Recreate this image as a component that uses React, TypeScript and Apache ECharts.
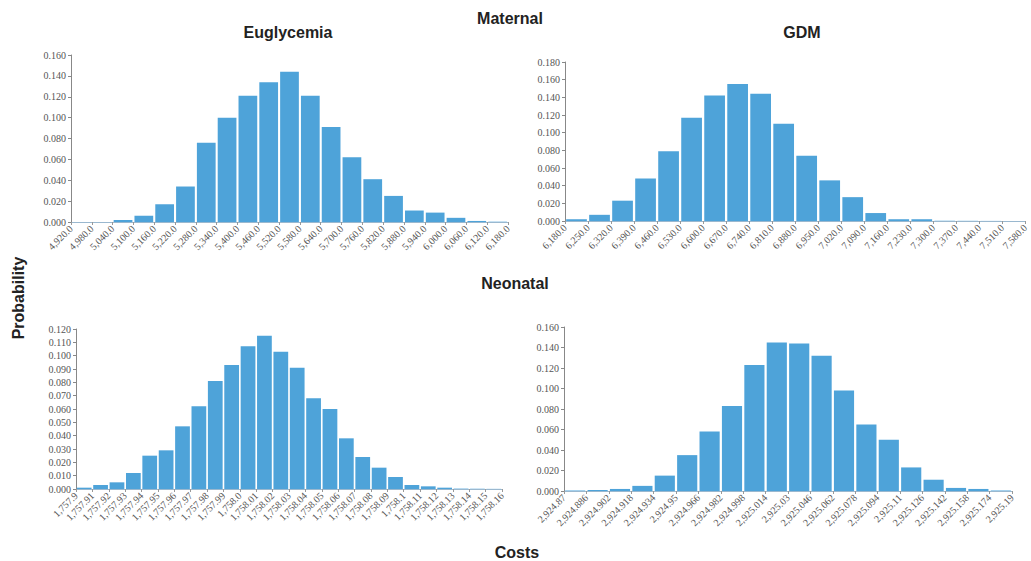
import React, { useEffect, useRef } from "react";
import * as echarts from "echarts";

// ---- Data ----
const euglycemiaEdges = ["4,920.0", "4,980.0", "5,040.0", "5,100.0", "5,160.0", "5,220.0", "5,280.0", "5,340.0", "5,400.0", "5,460.0", "5,520.0", "5,580.0", "5,640.0", "5,700.0", "5,760.0", "5,820.0", "5,880.0", "5,940.0", "6,000.0", "6,060.0", "6,120.0", "6,180.0"];
const euglycemiaProb = [0, 0, 0.002, 0.006, 0.017, 0.034, 0.076, 0.1, 0.121, 0.134, 0.144, 0.121, 0.091, 0.062, 0.041, 0.025, 0.011, 0.009, 0.004, 0.001, 0.0003];

const gdmEdges = ["6,180.0", "6,250.0", "6,320.0", "6,390.0", "6,460.0", "6,530.0", "6,600.0", "6,670.0", "6,740.0", "6,810.0", "6,880.0", "6,950.0", "7,020.0", "7,090.0", "7,160.0", "7,230.0", "7,300.0", "7,370.0", "7,440.0", "7,510.0", "7,580.0"];
const gdmProb = [0.002, 0.007, 0.023, 0.048, 0.079, 0.117, 0.142, 0.155, 0.144, 0.11, 0.074, 0.046, 0.027, 0.009, 0.002, 0.002, 0.0003, 0.0002, 0.0001, 0.0001];

const neoEugEdges = ["1,757.9", "1,757.91", "1,757.92", "1,757.93", "1,757.94", "1,757.95", "1,757.96", "1,757.97", "1,757.98", "1,757.99", "1,758.0", "1,758.01", "1,758.02", "1,758.03", "1,758.04", "1,758.05", "1,758.06", "1,758.07", "1,758.08", "1,758.09", "1,758.1", "1,758.11", "1,758.12", "1,758.13", "1,758.14", "1,758.15", "1,758.16"];
const neoEugProb = [0.001, 0.003, 0.005, 0.012, 0.025, 0.029, 0.047, 0.062, 0.081, 0.093, 0.107, 0.115, 0.103, 0.091, 0.068, 0.06, 0.038, 0.024, 0.016, 0.009, 0.003, 0.002, 0.001, 0.0003, 0.0002, 0.0001];

const neoGdmEdges = ["2,924.87", "2,924.886", "2,924.902", "2,924.918", "2,924.934", "2,924.95", "2,924.966", "2,924.982", "2,924.998", "2,925.014", "2,925.03", "2,925.046", "2,925.062", "2,925.078", "2,925.094", "2,925.11", "2,925.126", "2,925.142", "2,925.158", "2,925.174", "2,925.19"];
const neoGdmProb = [0.0005, 0.001, 0.002, 0.005, 0.015, 0.035, 0.058, 0.083, 0.123, 0.145, 0.144, 0.132, 0.098, 0.065, 0.05, 0.023, 0.011, 0.003, 0.002, 0.0005];

const panels = [
  { edges: euglycemiaEdges, values: euglycemiaProb, yMax: 0.16, yStep: 0.02, grid: { left: 71, top: 55, width: 437, height: 167 } },
  { edges: gdmEdges, values: gdmProb, yMax: 0.18, yStep: 0.02, grid: { left: 565, top: 62, width: 465, height: 159 } },
  { edges: neoEugEdges, values: neoEugProb, yMax: 0.12, yStep: 0.01, grid: { left: 76, top: 329, width: 426, height: 160 } },
  { edges: neoGdmEdges, values: neoGdmProb, yMax: 0.16, yStep: 0.02, grid: { left: 564, top: 327, width: 448, height: 164 } },
];

const BAR = "#4ea3d9";
const TICK_FONT = "'Liberation Serif', 'DejaVu Serif', serif";
const TITLE_FONT = "'Liberation Sans', Arial, sans-serif";

export default function App() {
  const ref = useRef<HTMLDivElement>(null);
  useEffect(() => {
    if (!ref.current) return;
    const chart = echarts.init(ref.current, undefined, { renderer: "svg" });
    const grid: any[] = [];
    const xAxis: any[] = [];
    const yAxis: any[] = [];
    const series: any[] = [];
    panels.forEach((p, i) => {
      grid.push({ ...p.grid });
      const bins = p.values.map((_, k) => String(k));
      xAxis.push({
        type: "category",
        gridIndex: i,
        data: bins,
        boundaryGap: true,
        show: false,
      });
      xAxis.push({
        type: "category",
        gridIndex: i,
        data: p.edges,
        boundaryGap: false,
        position: "bottom",
        axisLine: { show: true, lineStyle: { color: "#9ab8cf", width: 1 } },
        axisTick: { show: true, length: 3, alignWithLabel: true, lineStyle: { color: "#999" } },
        axisLabel: {
          interval: 0,
          rotate: 45,
          margin: 5,
          fontSize: 10,
          color: "#555",
          fontFamily: TICK_FONT,
        },
        splitLine: { show: false },
      });
      yAxis.push({
        type: "value",
        gridIndex: i,
        min: 0,
        max: p.yMax,
        interval: p.yStep,
        axisLine: { show: true, lineStyle: { color: "#888" } },
        axisTick: { show: true, length: 3, lineStyle: { color: "#888" } },
        axisLabel: {
          fontSize: 10,
          color: "#555",
          margin: 5,
          fontFamily: TICK_FONT,
          formatter: (v: number) => v.toFixed(3),
        },
        splitLine: { show: false },
      });
      series.push({
        type: "bar",
        xAxisIndex: i * 2,
        yAxisIndex: i,
        data: p.values,
        barCategoryGap: "10%",
        itemStyle: { color: BAR },
      });
    });

    const titleStyle = (text: string, x: number, y: number, rotation = 0) => ({
      type: "text",
      x,
      y,
      rotation,
      style: {
        text,
        fill: "#222",
        font: `bold 16px ${TITLE_FONT}`,
        textAlign: "center",
        textVerticalAlign: "middle",
      },
    });

    chart.setOption({
      animation: false,
      backgroundColor: "#ffffff",
      grid,
      xAxis,
      yAxis,
      series,
      graphic: [
        titleStyle("Maternal", 510, 18),
        titleStyle("Euglycemia", 288, 32),
        titleStyle("GDM", 802, 32),
        titleStyle("Neonatal", 515, 283),
        titleStyle("Probability", 18, 298, Math.PI / 2),
        titleStyle("Costs", 517, 552),
      ],
    });
    return () => chart.dispose();
  }, []);
  return (
    <div
      ref={ref}
      style={{ position: "fixed", left: 0, top: 0, width: 1031, height: 561, background: "#fff" }}
    />
  );
}
